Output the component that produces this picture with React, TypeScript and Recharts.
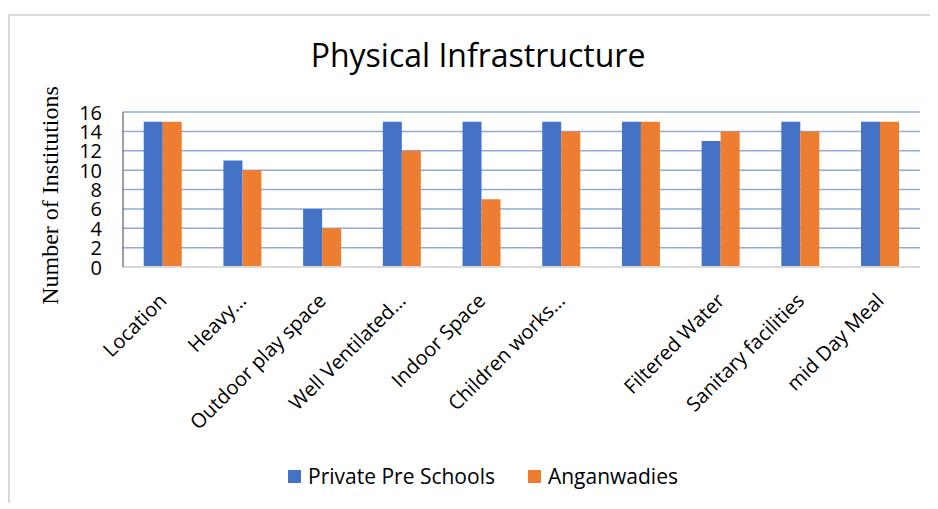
import React from "react";
import { BarChart, Bar, XAxis, YAxis, CartesianGrid, Legend, Label } from "recharts";

// Facilities surveyed, one group of bars per item
const categories = [
  "Location",
  "Heavy…",
  "Outdoor play space",
  "Well Ventilated…",
  "Indoor Space",
  "Children works…",
  "",
  "Filtered Water",
  "Sanitary facilities",
  "mid Day Meal",
];
const privatePreSchools = [15, 11, 6, 15, 15, 15, 15, 13, 15, 15];
const anganwadies = [15, 10, 4, 12, 7, 14, 15, 14, 14, 15];
const yTicks = [0, 2, 4, 6, 8, 10, 12, 14, 16];
const seriesNames = ["Private Pre Schools", "Anganwadies"];

const data = categories.map((name, i) => ({
  name,
  privatePre: privatePreSchools[i],
  anganwadi: anganwadies[i],
}));

const SANS = "'Open Sans', 'Noto Sans', sans-serif";
const BLUE = "#4472c4";
const ORANGE = "#ed7d31";

// Category labels slanted at 45°, right end pinned under the group
function CategoryTick(props: any) {
  const { x, y, payload } = props;
  const ax = x + 5;
  const ay = y + 27;
  return (
    <text
      x={ax}
      y={ay}
      textAnchor="end"
      transform={`rotate(-45, ${ax}, ${ay})`}
      fill="#000"
      fontSize={20}
      fontFamily={SANS}
    >
      {payload.value}
    </text>
  );
}

// Value labels, right-aligned a fixed gap left of the axis line
function ValueTick(props: any) {
  const { y, payload, axisX } = props;
  return (
    <text
      x={axisX - 21}
      y={y}
      textAnchor="end"
      dominantBaseline="central"
      fill="#000"
      fontSize={20}
      fontFamily={SANS}
    >
      {payload.value}
    </text>
  );
}

function YTitle(props: any) {
  const { viewBox } = props;
  const cx = viewBox.x + 42;
  const cy = viewBox.y + viewBox.height / 2 + 6;
  return (
    <text
      x={cx}
      y={cy}
      textAnchor="middle"
      dominantBaseline="central"
      transform={`rotate(-90, ${cx}, ${cy})`}
      fontFamily="'Liberation Serif', 'DejaVu Serif', serif"
      fontSize={24}
      fill="#000"
    >
      Number of Institutions
    </text>
  );
}

function LegendRow(props: any) {
  const items = [...(props.payload || [])].sort(
    (a: any, b: any) => seriesNames.indexOf(a.value) - seriesNames.indexOf(b.value)
  );
  return (
    <div
      style={{
        height: 30,
        display: "flex",
        justifyContent: "center",
        alignItems: "center",
        paddingLeft: 38,
        fontFamily: SANS,
        fontSize: 21,
        color: "#000",
      }}
    >
      {items.map((entry: any, i: number) => (
        <span
          key={entry.value}
          style={{ display: "flex", alignItems: "center", marginLeft: i === 0 ? 0 : 33 }}
        >
          <span
            style={{ width: 13, height: 13, background: entry.color, display: "inline-block", marginRight: 7 }}
          />
          {entry.value}
        </span>
      ))}
    </div>
  );
}

const Y_AXIS_WIDTH = 115;

export default function App() {
  return (
    <div style={{ position: "relative", width: 930, height: 495, overflow: "hidden" }}>
      {/* chart frame: only top and left edges fall inside the window */}
      <div
        style={{
          position: "absolute",
          left: 0,
          top: 6,
          width: 960,
          height: 520,
          borderTop: "2px solid #d9d9d9",
          borderLeft: "2px solid #d9d9d9",
          boxSizing: "border-box",
        }}
      />
      <div
        style={{
          position: "absolute",
          top: 27,
          left: 0,
          width: 940,
          textAlign: "center",
          fontFamily: SANS,
          fontSize: 32,
          color: "#000",
          lineHeight: "40px",
        }}
      >
        Physical Infrastructure
      </div>
      <BarChart
        width={930}
        height={495}
        data={data}
        margin={{ top: 104, right: 18, left: 0, bottom: 12 }}
        barGap={0}
        barCategoryGap="26%"
        style={{ position: "absolute", top: 0, left: 0 }}
      >
        <CartesianGrid vertical={false} stroke="#8eaadb" strokeWidth={1.5} />
        <XAxis
          dataKey="name"
          interval={0}
          height={194}
          tickLine={false}
          axisLine={{ stroke: "#d9d9d9", strokeWidth: 2 }}
          tick={<CategoryTick />}
        />
        <YAxis
          width={Y_AXIS_WIDTH}
          domain={[0, 16]}
          ticks={yTicks}
          interval={0}
          tickLine={false}
          axisLine={{ stroke: "#404040", strokeWidth: 1 }}
          tick={<ValueTick axisX={Y_AXIS_WIDTH} />}
        >
          <Label content={<YTitle />} />
        </YAxis>
        <Legend verticalAlign="bottom" content={<LegendRow />} />
        <Bar dataKey="privatePre" name={seriesNames[0]} fill={BLUE} isAnimationActive={false} />
        <Bar dataKey="anganwadi" name={seriesNames[1]} fill={ORANGE} isAnimationActive={false} />
      </BarChart>
    </div>
  );
}
